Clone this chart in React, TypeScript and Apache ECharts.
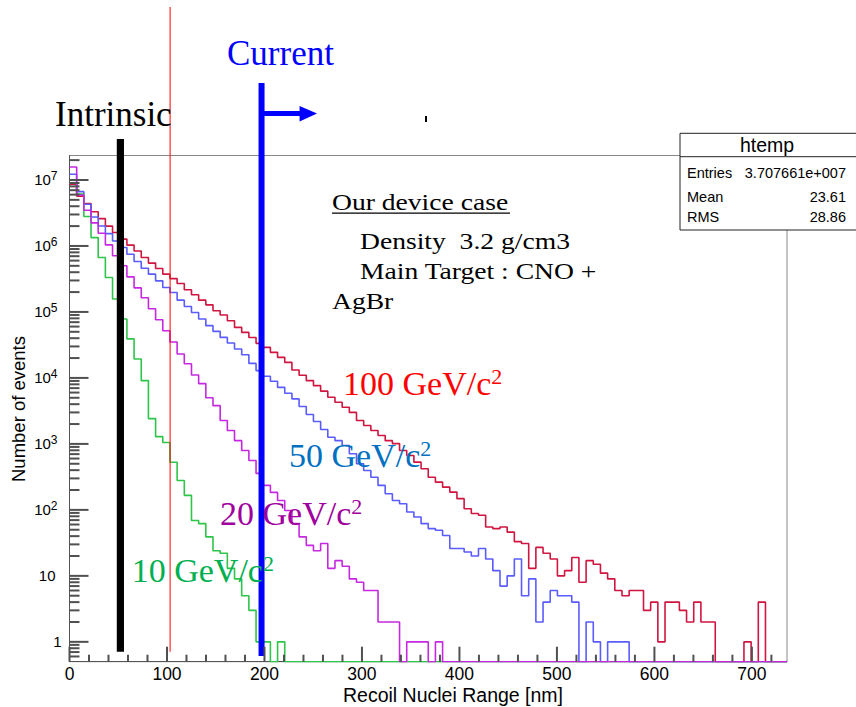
import React, { useEffect, useRef } from 'react';
import * as echarts from 'echarts';

// ---- axis ranges / binning ----
const X_MIN = 0;
const X_MAX = 736;
const BIN_WIDTH = 7.36;
const Y_MIN = 0.5;
const Y_MAX = 2.35e7;
const X_MAJOR_STEP = 100;
const X_MINOR_STEP = 20;
const Y_DECADES = [1, 10, 1e2, 1e3, 1e4, 1e5, 1e6, 1e7];

// ---- histogram contents (counts per bin, 100 bins) ----
const h100GeV = [
  8.6e6, 5.7e6, 4.4e6, 3.3e6, 2.6e6, 2.0e6, 1.6e6, 1.27e6, 1.03e6, 8.4e5,
  6.7e5, 5.5e5, 4.55e5, 3.74e5, 3.2e5, 2.7e5, 2.17e5, 1.82e5, 1.51e5, 1.28e5,
  1.04e5, 8.97e4, 7.36e4, 5.83e4, 4.9e4, 4.1e4, 3.34e4, 2.9e4, 2.44e4, 2.05e4,
  1.72e4, 1.32e4, 1.1e4, 9100, 7650, 6300, 5100, 4280, 3600, 3000,
  2260, 1900, 1600, 1340, 1120, 1010, 795, 668, 529, 420,
  313, 263, 221, 186, 148, 104, 88, 83, 55, 52,
  55, 46, 33, 31, 13, 27, 22, 18, 10, 12,
  19, 8, 17, 15, 11, 9, 6, 5, 6, 6,
  3, 4, 1, 4, 4, 3, 2, 4, 2, 2,
  0, 0, 0, 0, 1, 0, 4, 0, 0, 0,
];
const h50GeV = [
  1.22e7, 6.65e6, 4.29e6, 2.75e6, 2.01e6, 1.54e6, 1.19e6, 9.46e5, 7.5e5, 5.8e5,
  4.6e5, 3.74e5, 2.96e5, 2.35e5, 1.97e5, 1.51e5, 1.21e5, 9.8e4, 7.8e4, 6.2e4,
  5.07e4, 4.11e4, 3.39e4, 2.75e4, 2.25e4, 1.66e4, 1.29e4, 1.06e4, 8900, 7200,
  5850, 4810, 3680, 2790, 2180, 1650, 1260, 1120, 946, 708,
  500, 396, 313, 235, 176, 139, 124, 93, 78, 62,
  52, 49, 41, 26, 26, 23, 20, 26, 18, 12,
  7, 10, 18, 5, 9, 2, 4, 6, 5, 5,
  4, 0, 2, 1, 0, 1, 1, 1, 0, 0,
  0, 0, 0, 0, 0, 0, 0, 0, 0, 0,
  0, 0, 0, 0, 0, 0, 0, 0, 0, 0,
];
const h20GeV = [
  1.57e7, 5.93e6, 3.48e6, 2.24e6, 1.56e6, 1.04e6, 7.1e5, 5.0e5, 3.4e5, 2.32e5,
  1.64e5, 1.12e5, 7.6e4, 5.2e4, 3.5e4, 2.3e4, 1.64e4, 1.11e4, 8200, 5000,
  3800, 2260, 1600, 1120, 794, 561, 357, 235, 184, 139,
  98, 62, 39, 29, 24, 31, 13, 17, 14, 9,
  8, 6, 6, 2, 2, 2, 0, 1, 1, 1,
  0, 1, 0, 0, 0, 0, 0, 0, 0, 0,
  0, 0, 0, 0, 0, 0, 0, 0, 0, 0,
  0, 0, 0, 0, 0, 0, 0, 0, 0, 0,
  0, 0, 0, 0, 0, 0, 0, 0, 0, 0,
  0, 0, 0, 0, 0, 0, 0, 0, 0, 0,
];
const h10GeV = [
  9.0e6, 6.1e6, 2.8e6, 1.34e6, 6.7e5, 3.33e5, 1.57e5, 7.8e4, 3.9e4, 1.94e4,
  9100, 2420, 1290, 1050, 528, 279, 166, 69, 62, 39,
  24, 22, 13, 9, 5, 3, 1, 1, 0, 1,
  0, 0, 0, 0, 0, 0, 0, 0, 0, 0,
  0, 0, 0, 0, 0, 0, 0, 0, 0, 0,
  0, 0, 0, 0, 0, 0, 0, 0, 0, 0,
  0, 0, 0, 0, 0, 0, 0, 0, 0, 0,
  0, 0, 0, 0, 0, 0, 0, 0, 0, 0,
  0, 0, 0, 0, 0, 0, 0, 0, 0, 0,
  0, 0, 0, 0, 0, 0, 0, 0, 0, 0,
];

const SERIES_NAMES = ['100 GeV/c2', '50 GeV/c2', '10 GeV/c2', '20 GeV/c2'];
const LINE_COLORS = ['#d01540', '#5a5cff', '#2fc44a', '#c528e0'];

// ---- annotation positions (data units) ----
const INTRINSIC_X = 52.2;
const RED_CUT_X = 103.2;
const CURRENT_X = 197;
const BAR_BOTTOM_VALUE = 0.706;
const CURRENT_BOTTOM_VALUE = 0.61;

// ---- stats box ----
const STATS_TITLE = 'htemp';
const STATS_ROWS = [
  ['Entries', '3.707661e+007'],
  ['Mean', '23.61'],
  ['RMS', '28.86'],
];

const SANS = '"Liberation Sans", Arial, sans-serif';
const SERIF = '"Liberation Serif", "Times New Roman", serif';
const TICK_COLOR = '#505050';

function stepData(values: number[]) {
  const pts: number[][] = values.map((v, i) => [i * BIN_WIDTH, v > 0 ? v : Y_MIN]);
  const last = values[values.length - 1];
  pts.push([values.length * BIN_WIDTH, last > 0 ? last : Y_MIN]);
  return pts;
}

function yMinorTicks() {
  const out: number[] = [];
  for (let k = -1; k <= 7; k++) {
    for (let m = 2; m <= 9; m++) {
      const v = m * Math.pow(10, k);
      if (v > Y_MIN * 1.001 && v < Y_MAX) out.push(v);
    }
  }
  return out;
}

function xTicks(step: number, skipStep: number) {
  const out: number[] = [];
  for (let v = X_MIN; v <= X_MAX; v += step) {
    if (skipStep === 0 || v % skipStep !== 0) out.push(v);
  }
  return out;
}

function yLabel(v: number) {
  const e = Math.log10(v);
  const r = Math.round(e);
  if (Math.abs(e - r) > 1e-6 || r < 0) return '';
  if (r === 0) return '{b|1}';
  if (r === 1) return '{t|10}';
  return '{b|10}{s|' + r + '}';
}

export default function App() {
  const ref = useRef<HTMLDivElement>(null);

  useEffect(() => {
    if (!ref.current) return;
    const chart = echarts.init(ref.current, undefined, { renderer: 'svg' });
    const histos = [h100GeV, h50GeV, h10GeV, h20GeV];

    chart.setOption({
      animation: false,
      backgroundColor: '#fff',
      grid: {
        left: 69.5,
        right: 69,
        top: 155.5,
        bottom: 45.3,
        show: true,
        borderColor: '#888',
        borderWidth: 1,
        containLabel: false,
        outerBoundsMode: 'none',
      },
      xAxis: {
        type: 'value',
        min: X_MIN,
        max: X_MAX,
        interval: X_MAJOR_STEP,
        axisLine: { show: true, lineStyle: { color: '#555', width: 1 } },
        axisTick: { show: false },
        minorTick: { show: false },
        splitLine: { show: false },
        axisLabel: {
          fontSize: 17.5,
          lineHeight: 17,
          fontFamily: SANS,
          color: '#000',
          margin: 4,
          showMaxLabel: false,
          formatter: (v: number) => (v % X_MAJOR_STEP === 0 ? String(v) : ''),
        },
      },
      yAxis: {
        type: 'log',
        logBase: 10,
        min: Y_MIN,
        max: Y_MAX,
        axisLine: { show: true, lineStyle: { color: '#555', width: 1 } },
        axisTick: { show: false },
        minorTick: { show: false },
        splitLine: { show: false },
        axisLabel: {
          margin: 8,
          showMinLabel: false,
          showMaxLabel: false,
          formatter: yLabel,
          rich: {
            b: { fontSize: 15, lineHeight: 20, fontFamily: SANS, color: '#000' },
            t: { fontSize: 15, lineHeight: 20, fontFamily: SANS, color: '#000', padding: [0, 6, 0, 0] },
            s: { fontSize: 12, lineHeight: 10, verticalAlign: 'top', fontFamily: SANS, color: '#000', padding: [0, 4, 0, 0] },
          },
        },
      },
      series: histos.map((h, i) => ({
        name: SERIES_NAMES[i],
        type: 'line',
        step: 'end',
        data: stepData(h),
        showSymbol: false,
        symbol: 'none',
        lineStyle: { color: LINE_COLORS[i], width: 1.6 },
        itemStyle: { color: LINE_COLORS[i] },
        z: 3 + i,
      })),
    });

    const px = (x: number, y: number) => chart.convertToPixel({ gridIndex: 0 }, [x, y]) as number[];
    const pBlack = px(INTRINSIC_X, BAR_BOTTOM_VALUE);
    const pRed = px(RED_CUT_X, BAR_BOTTOM_VALUE);
    const pBlue = px(CURRENT_X, CURRENT_BOTTOM_VALUE);

    // pixel mapping derived from two interior points of the chart's own scales
    const pA = px(100, 10);
    const pB = px(600, 1e6);
    const xPerUnit = (pB[0] - pA[0]) / 500;
    const yPerDecade = (pB[1] - pA[1]) / 5;
    const xPix = (v: number) => pA[0] + (v - 100) * xPerUnit;
    const yPix = (v: number) => pA[1] + (Math.log10(v) - 1) * yPerDecade;
    const left = xPix(X_MIN);
    const bottom = yPix(Y_MIN);

    const TW = 2;
    const tickEls: any[] = [];
    const addTick = (x: number, y: number, w: number, h: number) => {
      tickEls.push({
        type: 'rect',
        z: 160,
        shape: { x, y, width: w, height: h },
        style: { fill: TICK_COLOR },
      });
    };
    Y_DECADES.forEach((v) => addTick(left, yPix(v) - TW / 2, 19, TW));
    yMinorTicks().forEach((v) => addTick(left, yPix(v) - TW / 2, 10, TW));
    xTicks(X_MAJOR_STEP, 0).forEach((v) => addTick(xPix(v) - TW / 2, bottom - 15, TW, 15));
    xTicks(X_MINOR_STEP, X_MAJOR_STEP).forEach((v) => addTick(xPix(v) - TW / 2, bottom - 7, TW, 7));

    const serifText = (text: string, x: number, y: number, size: number, fill: string, extra: any = {}) => ({
      type: 'text',
      x,
      y,
      z: 200,
      ...extra,
      style: {
        text,
        x: 0,
        y: 0,
        fontSize: size,
        fontFamily: SERIF,
        fill,
        align: 'left',
        verticalAlign: 'middle',
        textAlign: 'left',
        textVerticalAlign: 'middle',
      },
    });

    const massLabel = (text: string, x: number, y: number, fill: string) => ({
      type: 'text',
      x,
      y,
      z: 200,
      style: {
        text: text + '{s|2}',
        x: 0,
        y: 0,
        fontSize: 34,
        lineHeight: 36,
        fontFamily: SERIF,
        fill,
        align: 'left',
        verticalAlign: 'middle',
        textAlign: 'left',
        textVerticalAlign: 'middle',
        rich: {
          s: { fontSize: 22, lineHeight: 28, verticalAlign: 'top', fontFamily: SERIF, fill },
        },
      },
    });

    const sansText = (text: string, x: number, y: number, size: number, align: string, extra: any = {}) => ({
      type: 'text',
      x,
      y,
      z: 212,
      ...extra,
      style: {
        text, x: 0, y: 0, fontSize: size, fontFamily: SANS, fill: '#000',
        align, verticalAlign: 'middle', textAlign: align, textVerticalAlign: 'middle',
      },
    });

    const statsX = 680;
    const statsY = 133.3;
    const statsW = 190;
    const statsH = 96.7;

    const graphic: any[] = [
      ...tickEls,
      // thin red line
      {
        type: 'line', z: 150,
        shape: { x1: pRed[0], y1: 7, x2: pRed[0], y2: pRed[1] },
        style: { stroke: '#ff0000', lineWidth: 1 },
      },
      // black intrinsic bar
      {
        type: 'rect', z: 150,
        shape: { x: pBlack[0] - 3.6, y: 139, width: 7.2, height: pBlack[1] - 139 },
        style: { fill: '#000' },
      },
      // blue current bar + arrow
      {
        type: 'rect', z: 150,
        shape: { x: pBlue[0] - 3, y: 83, width: 6, height: pBlue[1] - 83 },
        style: { fill: '#0000ff' },
      },
      {
        type: 'rect', z: 150,
        shape: { x: pBlue[0] + 2, y: 111, width: 38, height: 5 },
        style: { fill: '#0000ff' },
      },
      {
        type: 'polygon', z: 150,
        shape: { points: [[pBlue[0] + 38, 106], [pBlue[0] + 55.5, 113.6], [pBlue[0] + 38, 121.5]] },
        style: { fill: '#0000ff' },
      },
      // tiny stray mark
      { type: 'rect', z: 150, shape: { x: 425, y: 116, width: 2, height: 6 }, style: { fill: '#000' } },
      serifText('Intrinsic', 55, 114.8, 35, '#000'),
      serifText('Current', 227, 53.2, 35, '#0000ff'),
      // device description
      serifText('Our device case', 332, 202.2, 23, '#000', { scaleX: 1.2 }),
      { type: 'rect', z: 200, shape: { x: 332, y: 212.5, width: 178, height: 1.2 }, style: { fill: '#000' } },
      serifText('Density\u00a0 3.2 g/cm3', 360, 240.5, 23, '#000', { scaleX: 1.2 }),
      serifText('Main Target : CNO +', 360, 270.5, 23, '#000', { scaleX: 1.2 }),
      serifText('AgBr', 332, 300.5, 23, '#000', { scaleX: 1.2 }),
      // mass labels
      massLabel('100 GeV/c', 343, 383.7, '#ff0000'),
      massLabel('50 GeV/c', 289, 455.4, '#0070c0'),
      massLabel('20 GeV/c', 220, 513.7, '#a0009e'),
      massLabel('10 GeV/c', 131.7, 570.4, '#00b050'),
      // axis titles
      sansText('Number of events', 18, 409, 18.5, 'center', { rotation: Math.PI / 2, z: 200 }),
      sansText('Recoil Nuclei Range [nm]', 453, 695, 19.5, 'center', { z: 200 }),
      // stats box
      {
        type: 'rect', z: 210,
        shape: { x: statsX, y: statsY, width: statsW, height: statsH },
        style: { fill: '#fff', stroke: '#222', lineWidth: 1 },
      },
      {
        type: 'line', z: 211,
        shape: { x1: statsX, y1: 156.7, x2: statsX + statsW, y2: 156.7 },
        style: { stroke: '#222', lineWidth: 1 },
      },
      sansText(STATS_TITLE, 767, 145, 19.5, 'center'),
      ...STATS_ROWS.flatMap((row, i) => {
        const y = [173.3, 196.6, 217.4][i];
        return [
          sansText(row[0], 687, y, 14.5, 'left'),
          sansText(row[1], 846, y, 14.5, 'right'),
        ];
      }),
    ];

    chart.setOption({ graphic });

    return () => {
      chart.dispose();
    };
  }, []);

  return (
    <div
      ref={ref}
      style={{ position: 'absolute', left: 0, top: 0, width: 856, height: 707, background: '#fff' }}
    />
  );
}
